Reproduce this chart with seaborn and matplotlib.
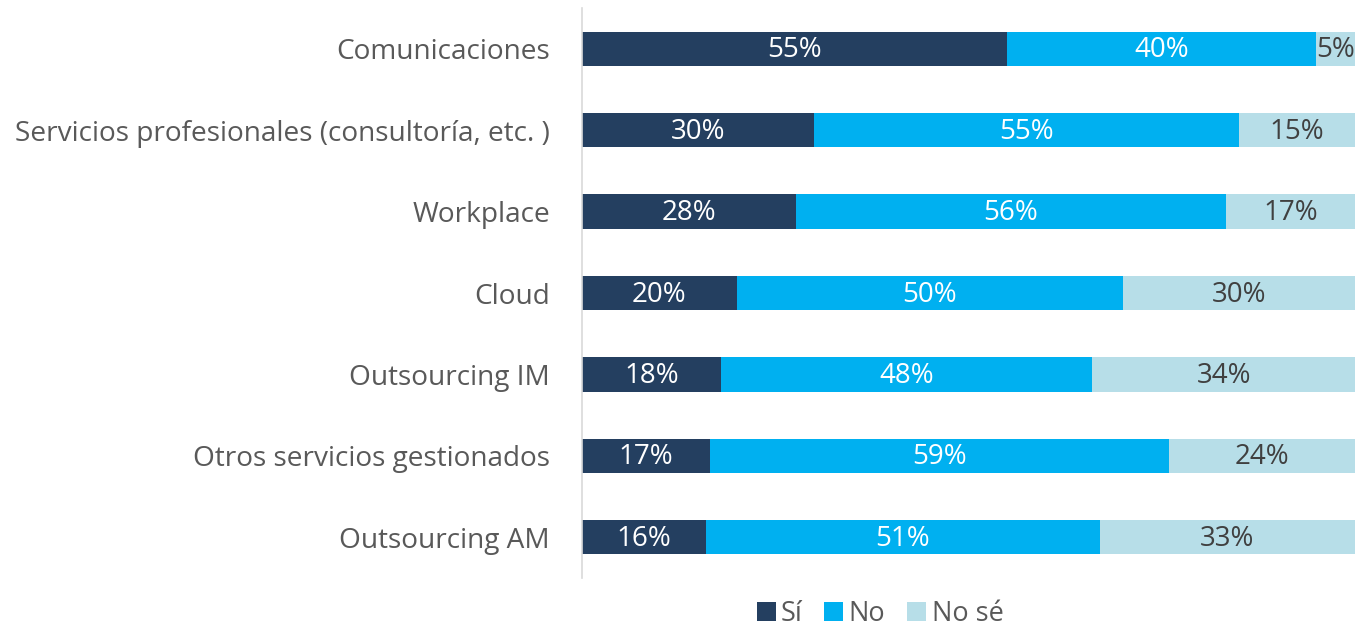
import matplotlib
matplotlib.use("Agg")
import matplotlib.pyplot as plt
import seaborn as sns
import pandas as pd
import numpy as np
from matplotlib.patches import Patch

categories = ["Comunicaciones", "Servicios profesionales (consultoría, etc. )", "Workplace",
              "Cloud", "Outsourcing IM", "Otros servicios gestionados", "Outsourcing AM"]
si = [55, 30, 27.7, 20, 18, 16.6, 16]
no = [40, 55, 55.6, 50, 48, 59.4, 51]
nose = [5, 15, 16.7, 30, 34, 24, 33]
series = ["Sí", "No", "No sé"]
colors = ["#243F60", "#00B0F0", "#B7DEE8"]
text_colors = ["white", "white", "#404040"]

sns.set_theme(style="white")
plt.rcParams['font.family'] = ['Open Sans', 'DejaVu Sans']

df = pd.DataFrame({"cat": categories, "Sí": si, "No": no, "No sé": nose})
df["c1"] = df["Sí"]
df["c2"] = df["Sí"] + df["No"]
df["c3"] = df["c2"] + df["No sé"]

fig = plt.figure(figsize=(13.57, 6.27), dpi=100)
ax = fig.add_axes([582/1357, 1 - 578/627, (1355-582)/1357, (578-8)/627])

for col, color in zip(["c3", "c2", "c1"], colors[::-1]):
    sns.barplot(data=df, x=col, y="cat", color=color, width=0.42, ax=ax,
                orient="h", saturation=1, edgecolor="none", linewidth=0)

ax.set_xlim(0, 100)
ax.set_ylim(6.5, -0.5)
ax.set_xlabel("")
ax.set_ylabel("")
ax.set_xticks([])
ax.tick_params(axis="y", length=0, pad=23, labelsize=20.2, labelcolor="#595959")
for s in ["top", "right", "bottom"]:
    ax.spines[s].set_visible(False)
ax.spines["left"].set_color("#D9D9D9")
ax.spines["left"].set_linewidth(1.2)

for i in range(len(categories)):
    starts = [0, si[i], si[i] + no[i]]
    vals = [si[i], no[i], nose[i]]
    for j in range(3):
        ax.text(starts[j] + vals[j] / 2, i + 0.02, f"{round(vals[j])}%", ha="center", va="center",
                color=text_colors[j], fontsize=20)

handles = [Patch(facecolor=c, edgecolor="none") for c in colors]
fig.legend(handles, series, loc="center", bbox_to_anchor=(880/1357, 1 - 614/627), ncol=3,
           frameon=False, fontsize=19.5, handlelength=0.7, handleheight=0.7,
           handletextpad=0.2, columnspacing=0.8, labelcolor="#595959")

fig.savefig("out.png", dpi=100)
